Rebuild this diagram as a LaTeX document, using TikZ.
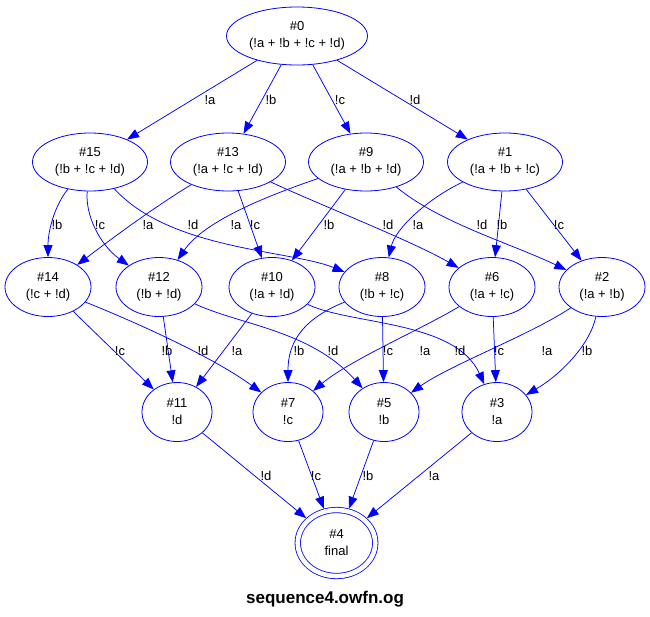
\documentclass[tikz,border=0pt]{standalone}
\usepackage{fontspec}
\setmainfont{Liberation Sans}
\usetikzlibrary{shapes.geometric,arrows.meta}

\begin{document}
\begin{tikzpicture}[x=1pt, y=-1pt,
  state/.style={ellipse, draw=blue, line width=0.8pt, inner sep=0pt, align=center,
                font=\fontsize{13}{17}\selectfont},
  big/.style={state, minimum width=115pt, minimum height=58pt},
  mid/.style={state, minimum width=86pt, minimum height=59pt},
  small/.style={state, minimum width=70pt, minimum height=59pt},
  final/.style={state, double=white, double distance=4.6pt, minimum width=77.5pt,
                minimum height=66pt, outer sep=3pt},
  edge/.style={draw=blue, line width=0.75pt, -{Triangle[length=12pt,width=9pt]}},
  lbl/.style={font=\fontsize{13}{15}\selectfont, inner sep=0pt}]

 \useasboundingbox (0,0) rectangle (650,616);

 %%%%%%%%%% States %%%%%%%%%%
 \node[state, minimum width=141pt, minimum height=58pt] (n0) at (297,36) {\#0\\(!a + !b + !c + !d)};

 \node[big] (n15) at (90,162)  {\#15\\(!b + !c + !d)};
 \node[big] (n13) at (228,162) {\#13\\(!a + !c + !d)};
 \node[big] (n9)  at (366,162) {\#9\\(!a + !b + !d)};
 \node[big] (n1)  at (505,162) {\#1\\(!a + !b + !c)};

 \node[mid] (n14) at (48,287)  {\#14\\(!c + !d)};
 \node[mid] (n12) at (159,287) {\#12\\(!b + !d)};
 \node[mid] (n10) at (272,287) {\#10\\(!a + !d)};
 \node[mid] (n8)  at (382,287) {\#8\\(!b + !c)};
 \node[mid] (n6)  at (492,287) {\#6\\(!a + !c)};
 \node[mid] (n2)  at (602,287) {\#2\\(!a + !b)};

 \node[small] (n11) at (177,412) {\#11\\!d};
 \node[small] (n7)  at (288,412) {\#7\\!c};
 \node[small] (n5)  at (384,412) {\#5\\!b};
 \node[small] (n3)  at (497,412) {\#3\\!a};

 \node[final] (n4) at (336.5,543) {\#4\\final};

 %%%%%%%%%% First layer %%%%%%%%%%
 \draw[edge] (n0) -- (n15);
 \draw[edge] (n0) -- (n13);
 \draw[edge] (n0) -- (n9);
 \draw[edge] (n0) -- (n1);

 \node[lbl] (l0a) at (210,100) {!a};
 \node[lbl] (l0b) at (271,100) {!b};
 \node[lbl] (l0c) at (340,100) {!c};
 \node[lbl] (l0d) at (415,100) {!d};

 %%%%%%%%%% Second layer %%%%%%%%%%
 \draw[edge] (n15) .. controls (55,205) and (48,230) .. (n14);
 \draw[edge] (n15) .. controls (85,215) and (100,245) .. (n12);
 \draw[edge] (n15) .. controls (170,250) and (290,250) .. (n8);
 \draw[edge] (n13) .. controls (150,210) and (110,240) .. (n14);
 \draw[edge] (n13) -- (n10);
 \draw[edge] (n13) .. controls (320,205) and (410,240) .. (n6);
 \draw[edge] (n9) .. controls (270,195) and (205,220) .. (n12);
 \draw[edge] (n9) -- (n10);
 \draw[edge] (n9) .. controls (440,223) and (510,243) .. (n2);
 \draw[edge] (n1) .. controls (425,200) and (395,230) .. (n8);
 \draw[edge] (n1) -- (n6);
 \draw[edge] (n1) -- (n2);

 \node[lbl] (l15b) at (57,225)  {!b};
 \node[lbl] (l15c) at (100,225) {!c};
 \node[lbl] (l13a) at (148,225) {!a};
 \node[lbl] (l15d) at (193,225) {!d};
 \node[lbl] (l9a)  at (236,225) {!a};
 \node[lbl] (l13c) at (255,225) {!c};
 \node[lbl] (l9b)  at (329,225) {!b};
 \node[lbl] (l13d) at (388,225) {!d};
 \node[lbl] (l1a)  at (418,225) {!a};
 \node[lbl] (l9d)  at (482,225) {!d};
 \node[lbl] (l1b)  at (502,225) {!b};
 \node[lbl] (l1c)  at (559,225) {!c};

 %%%%%%%%%% Third layer %%%%%%%%%%
 \draw[edge] (n14) -- (n11);
 \draw[edge] (n14) .. controls (130,320) and (210,355) .. (n7);
 \draw[edge] (n12) -- (n11);
 \draw[edge] (n12) .. controls (240,325) and (310,330) .. (n5);
 \draw[edge] (n10) -- (n11);
 \draw[edge] (n10) .. controls (350,325) and (455,320) .. (n3);
 \draw[edge] (n8) .. controls (300,320) and (288,345) .. (n7);
 \draw[edge] (n8) -- (n5);
 \draw[edge] (n6) .. controls (420,330) and (350,360) .. (n7);
 \draw[edge] (n6) -- (n3);
 \draw[edge] (n2) .. controls (530,335) and (450,365) .. (n5);
 \draw[edge] (n2) .. controls (590,345) and (560,375) .. (n3);

 \node[lbl] (l14c) at (120,351) {!c};
 \node[lbl] (l12b) at (167,351) {!b};
 \node[lbl] (l14d) at (203,351) {!d};
 \node[lbl] (l10a) at (237,351) {!a};
 \node[lbl] (l8b)  at (299,351) {!b};
 \node[lbl] (l12d) at (333,351) {!d};
 \node[lbl] (l8c)  at (388,351) {!c};
 \node[lbl] (l6a)  at (425,351) {!a};
 \node[lbl] (l10d) at (460,351) {!d};
 \node[lbl] (l6c)  at (499,351) {!c};
 \node[lbl] (l2a)  at (547,351) {!a};
 \node[lbl] (l2b)  at (587,351) {!b};

 %%%%%%%%%% Last layer %%%%%%%%%%
 \draw[edge] (n11) -- (n4);
 \draw[edge] (n7) -- (n4);
 \draw[edge] (n5) -- (n4);
 \draw[edge] (n3) -- (n4);

 \node[lbl] (l11d) at (266,476) {!d};
 \node[lbl] (l7c)  at (316,476) {!c};
 \node[lbl] (l5b)  at (368,476) {!b};
 \node[lbl] (l3a)  at (434,476) {!a};

 %%%%%%%%%% Title %%%%%%%%%%
 \node[anchor=base, inner sep=0pt, font=\bfseries\fontsize{17}{20}\selectfont] (title) at (325,603) {sequence4.owfn.og};

\end{tikzpicture}
\end{document}
